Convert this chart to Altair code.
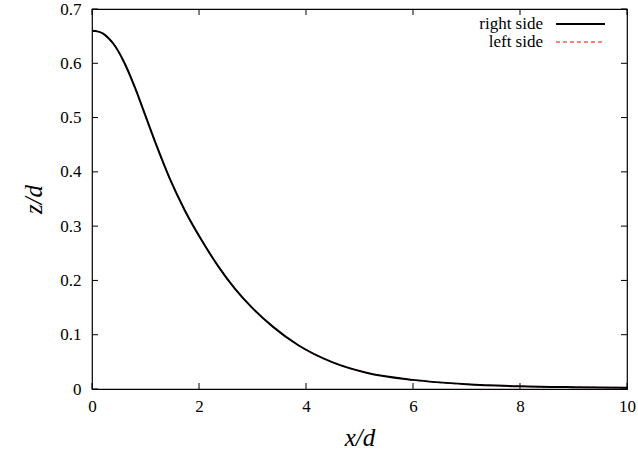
import altair as alt
import pandas as pd

# Interface height profile z/d against distance x/d
x_d = [0.0, 0.1, 0.2, 0.3, 0.4, 0.6, 0.8, 1.0, 1.2, 1.46, 1.74, 2.05, 2.36,
       2.67, 3.0, 3.39, 3.85, 4.5, 5.13, 6.0, 7.0, 8.0, 9.0, 10.0]
z_d = [0.660, 0.6588, 0.655, 0.647, 0.636, 0.602, 0.556, 0.503, 0.450,
       0.386, 0.328, 0.274, 0.226, 0.185, 0.149, 0.114, 0.081, 0.049,
       0.030, 0.0168, 0.0088, 0.0050, 0.0033, 0.0024]

x_ticks = [0, 2, 4, 6, 8, 10]
z_ticks = [0, 0.1, 0.2, 0.3, 0.4, 0.5, 0.6, 0.7]

series = ["right side", "left side"]
series_colors = ["#000000", "#ff0000"]

W, H = 535, 380
FONT = "Liberation Serif"
TICK = 6

curve = pd.DataFrame({"x": x_d, "z": z_d})
xt = pd.DataFrame({"t": x_ticks})
zt = pd.DataFrame({"t": z_ticks})

xs = alt.Scale(domain=[0, 10], nice=False, zero=False)
ys = alt.Scale(domain=[0, 0.7], nice=False)

x_axis = alt.Axis(values=x_ticks, ticks=False, grid=False, domain=False,
                  labelExpr="toString(datum.value)", labelFont=FONT,
                  labelFontSize=17, labelColor="black", labelPadding=9,
                  labelFlush=False,
                  title="x/d", titleFont=FONT, titleFontSize=25,
                  titleFontStyle="italic", titleFontWeight="normal",
                  titleColor="black", titleY=36)
y_axis = alt.Axis(values=z_ticks, ticks=False, grid=False, domain=False,
                  labelExpr="toString(datum.value)", labelFont=FONT,
                  labelFontSize=17, labelColor="black", labelPadding=11,
                  labelFlush=False,
                  title="z/d", titleFont=FONT, titleFontSize=25,
                  titleFontStyle="italic", titleFontWeight="normal",
                  titleColor="black", titleX=-46)

# left side drawn first (dashed red), right side on top (solid black)
left_line = alt.Chart(curve).mark_line(
    color=series_colors[1], strokeWidth=1.2, strokeDash=[4, 3],
    interpolate="monotone", clip=True
).encode(x=alt.X("x:Q", scale=xs, axis=x_axis),
         y=alt.Y("z:Q", scale=ys, axis=y_axis))

right_line = alt.Chart(curve).mark_line(
    color=series_colors[0], strokeWidth=2, interpolate="monotone", clip=True
).encode(x=alt.X("x:Q", scale=xs), y=alt.Y("z:Q", scale=ys))

# inward ticks on all four sides
tick_style = dict(color="black", strokeWidth=1)
bottom_ticks = alt.Chart(xt).mark_rule(**tick_style).encode(
    x=alt.X("t:Q", scale=xs), y=alt.value(H), y2=alt.value(H - TICK))
top_ticks = alt.Chart(xt).mark_rule(**tick_style).encode(
    x=alt.X("t:Q", scale=xs), y=alt.value(0), y2=alt.value(TICK))
left_ticks = alt.Chart(zt).mark_rule(**tick_style).encode(
    y=alt.Y("t:Q", scale=ys), x=alt.value(0), x2=alt.value(TICK))
right_ticks = alt.Chart(zt).mark_rule(**tick_style).encode(
    y=alt.Y("t:Q", scale=ys), x=alt.value(W - TICK), x2=alt.value(W))

# key in the upper right corner: label, then line sample
key_layers = []
for i, (name, col) in enumerate(zip(series, series_colors)):
    ky = 15 + 18 * i
    kd = pd.DataFrame({"name": [name]})
    key_layers.append(
        alt.Chart(kd).mark_text(align="right", baseline="middle", font=FONT,
                                fontSize=17, color="black")
        .encode(text="name:N", x=alt.value(451), y=alt.value(ky)))
    rule_kw = dict(color=col, strokeWidth=2 if i == 0 else 1.2)
    if i == 1:
        rule_kw["strokeDash"] = [4, 3]
    key_layers.append(
        alt.Chart(kd).mark_rule(**rule_kw)
        .encode(x=alt.value(464), x2=alt.value(513), y=alt.value(ky)))

chart = alt.layer(
    left_line, right_line, bottom_ticks, top_ticks, left_ticks, right_ticks,
    *key_layers
).properties(
    width=W, height=H, autosize="none",
    padding={"left": 92, "top": 9, "right": 11, "bottom": 65},
    background="white"
).configure_view(stroke="black", strokeWidth=1.2)

chart.save("out.html", embed_options={"renderer": "svg", "actions": False})
